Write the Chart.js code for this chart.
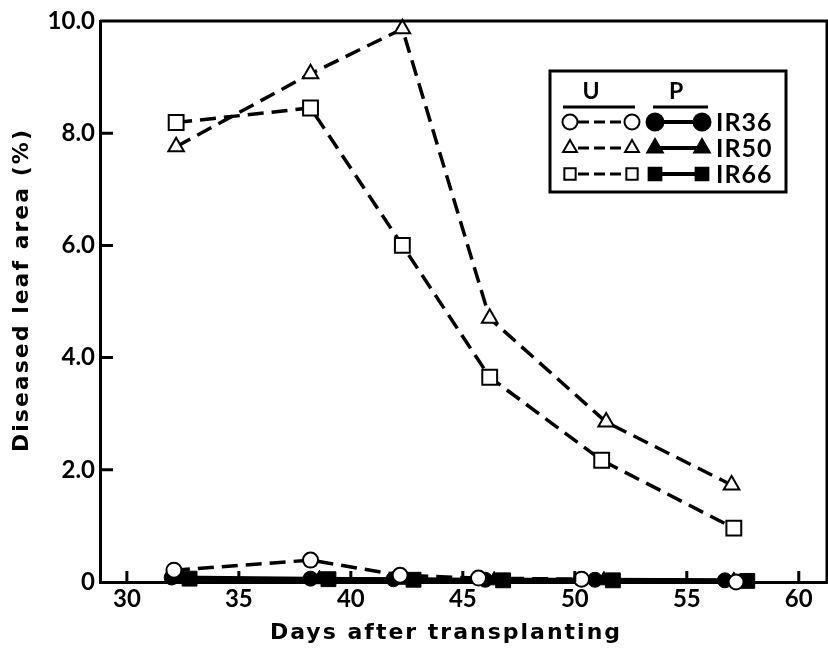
<!DOCTYPE html>
<html>
<head>
<meta charset="utf-8">
<script src="https://cdn.jsdelivr.net/npm/chart.js@4"></script>
<style>
  html, body { margin: 0; padding: 0; background: #fff; }
  #wrap { width: 828px; height: 651px; position: relative; }
</style>
</head>
<body>
<div id="wrap"><canvas id="myCanvas"></canvas></div>
<script>
// unprotected (U) - open markers, dashed lines
const uDays36 = [32.1, 38.2, 42.2, 45.7, 50.3, 57.2];
const uIR36   = [0.21, 0.39, 0.12, 0.07, 0.05, 0.00];
const uDays50 = [32.2, 38.2, 42.3, 46.2, 51.4, 57.0];
const uIR50   = [7.76, 9.06, 9.86, 4.70, 2.85, 1.73];
const uDays66 = [32.2, 38.2, 42.3, 46.2, 51.2, 57.1];
const uIR66   = [8.19, 8.45, 6.00, 3.65, 2.17, 0.96];

// protected (P) - filled markers, solid lines
const pDays36 = [32.0, 38.2, 41.9, 46.0, 50.9, 56.7];
const pIR36   = [0.08, 0.06, 0.05, 0.04, 0.04, 0.03];
const pDays50 = [32.4, 38.6, 42.4, 46.4, 51.3, 57.1];
const pIR50   = [0.06, 0.05, 0.04, 0.03, 0.03, 0.02];
const pDays66 = [32.8, 39.0, 42.8, 46.8, 51.7, 57.7];
const pIR66   = [0.06, 0.05, 0.04, 0.03, 0.03, 0.02];

const varieties = ['IR36', 'IR50', 'IR66'];
const xTicks = [30, 35, 40, 45, 50, 55, 60];
const yTicks = [0, 2, 4, 6, 8, 10];
const yTickLabels = ['0', '2.0', '4.0', '6.0', '8.0', '10.0'];
const xTitle = 'Days after transplanting';
const yTitle = 'Diseased leaf area (%)';

const toPts = (xs, ys) => xs.map((x, i) => ({ x: x, y: ys[i] }));

const shapes = { IR36: ['circle', 7.5], IR50: ['triangle', 9], IR66: ['rect', 10.5] };

function openSet(name, xs, ys) {
  return {
    label: 'U ' + name,
    data: toPts(xs, ys),
    showLine: true,
    borderColor: '#000',
    borderWidth: 3.5,
    borderDash: [16, 8],
    pointStyle: shapes[name][0],
    pointRadius: shapes[name][1],
    pointBackgroundColor: '#fff',
    pointBorderColor: '#000',
    pointBorderWidth: 2,
    clip: false
  };
}
function filledSet(name, xs, ys) {
  return {
    label: 'P ' + name,
    data: toPts(xs, ys),
    showLine: true,
    borderColor: '#000',
    borderWidth: 4,
    pointStyle: shapes[name][0],
    pointRadius: shapes[name][1],
    pointBackgroundColor: '#000',
    pointBorderColor: '#000',
    pointBorderWidth: 1,
    clip: false
  };
}

const tickFont = { family: 'Lato', size: 24, weight: 'bold' };

// inward tick marks, top/right frame, axis titles and the U/P legend box
const framePlugin = {
  id: 'frame',
  afterDraw(chart) {
    const ctx = chart.ctx;
    const a = chart.chartArea;
    const xs = chart.scales.x, ys = chart.scales.y;
    ctx.save();
    ctx.strokeStyle = '#000';
    ctx.lineWidth = 3;
    ctx.beginPath();
    ctx.moveTo(a.left, a.top);
    ctx.lineTo(a.right, a.top);
    ctx.lineTo(a.right, a.bottom);
    xTicks.forEach(v => {
      const px = xs.getPixelForValue(v);
      ctx.moveTo(px, a.bottom);
      ctx.lineTo(px, a.bottom - 11);
    });
    yTicks.slice(1, -1).forEach(v => {
      const py = ys.getPixelForValue(v);
      ctx.moveTo(a.left, py);
      ctx.lineTo(a.left + 13, py);
    });
    ctx.stroke();

    // axis titles
    ctx.fillStyle = '#000';
    ctx.font = 'bold 22px "DejaVu Sans"';
    ctx.letterSpacing = '2px';
    ctx.textAlign = 'center';
    ctx.textBaseline = 'middle';
    ctx.fillText(xTitle, 446, 633);
    ctx.save();
    ctx.translate(22, 290);
    ctx.rotate(-Math.PI / 2);
    ctx.fillText(yTitle, 0, 0);
    ctx.restore();

    // legend
    ctx.letterSpacing = '0px';
    const bx = 550, by = 71, bw = 236, bh = 121;
    ctx.lineWidth = 3;
    ctx.strokeRect(bx, by, bw, bh);
    ctx.font = 'bold 23px Lato';
    ctx.fillText('U', 591, 92);
    ctx.fillText('P', 676, 92);
    ctx.beginPath();
    ctx.moveTo(563, 107); ctx.lineTo(635, 107);
    ctx.moveTo(653, 107); ctx.lineTo(708, 107);
    ctx.stroke();
    const rows = [122, 148, 174];
    ctx.textAlign = 'left';
    ctx.font = 'bold 25px Lato';
    ctx.letterSpacing = '1px';
    varieties.forEach((name, i) => {
      const y = rows[i];
      const u = chart.data.datasets[i];
      const p = chart.data.datasets[i + 3];
      ctx.lineWidth = 3;
      ctx.setLineDash([11, 5]);
      ctx.beginPath(); ctx.moveTo(578, y); ctx.lineTo(624, y); ctx.stroke();
      ctx.setLineDash([]);
      ctx.lineWidth = 4;
      ctx.beginPath(); ctx.moveTo(655, y); ctx.lineTo(702, y); ctx.stroke();
      const r = Math.min(u.pointRadius, 8);
      ctx.lineWidth = 2;
      ctx.fillStyle = '#fff';
      Chart.helpers.drawPoint(ctx, { pointStyle: u.pointStyle, radius: r, borderWidth: 2 }, 570, y);
      Chart.helpers.drawPoint(ctx, { pointStyle: u.pointStyle, radius: r, borderWidth: 2 }, 632, y);
      ctx.fillStyle = '#000';
      Chart.helpers.drawPoint(ctx, { pointStyle: p.pointStyle, radius: r + 1, borderWidth: 1 }, 655, y);
      Chart.helpers.drawPoint(ctx, { pointStyle: p.pointStyle, radius: r + 1, borderWidth: 1 }, 702, y);
      ctx.fillText(name, 716, y + 1);
    });
    ctx.restore();
  }
};

new Chart(document.getElementById('myCanvas').getContext('2d'), {
  type: 'scatter',
  data: {
    datasets: [
      openSet('IR36', uDays36, uIR36),
      openSet('IR50', uDays50, uIR50),
      openSet('IR66', uDays66, uIR66),
      filledSet('IR36', pDays36, pIR36),
      filledSet('IR50', pDays50, pIR50),
      filledSet('IR66', pDays66, pIR66)
    ]
  },
  options: {
    responsive: true,
    maintainAspectRatio: false,
    animation: false,
    layout: { autoPadding: false, padding: { left: 0, top: 21, right: 1, bottom: 0 } },
    plugins: { legend: { display: false }, tooltip: { enabled: false } },
    scales: {
      x: {
        type: 'linear',
        min: 28.8,
        max: 61.26,
        afterBuildTicks: s => { s.ticks = xTicks.map(v => ({ value: v })); },
        afterFit: s => { s.height = 69; s.paddingLeft = 0; s.paddingRight = 0; },
        grid: { display: false, drawTicks: false },
        border: { display: true, color: '#000', width: 3 },
        ticks: { color: '#000', font: tickFont, padding: 3, maxRotation: 0 }
      },
      y: {
        min: 0,
        max: 10,
        afterBuildTicks: s => { s.ticks = yTicks.map(v => ({ value: v })); },
        afterFit: s => { s.width = 100; s.paddingTop = 0; s.paddingBottom = 0; },
        grid: { display: false, drawTicks: false },
        border: { display: true, color: '#000', width: 3 },
        ticks: {
          color: '#000', font: tickFont, padding: 5,
          callback: v => yTickLabels[yTicks.indexOf(v)]
        }
      }
    }
  },
  plugins: [framePlugin]
});
</script>
</body>
</html>
